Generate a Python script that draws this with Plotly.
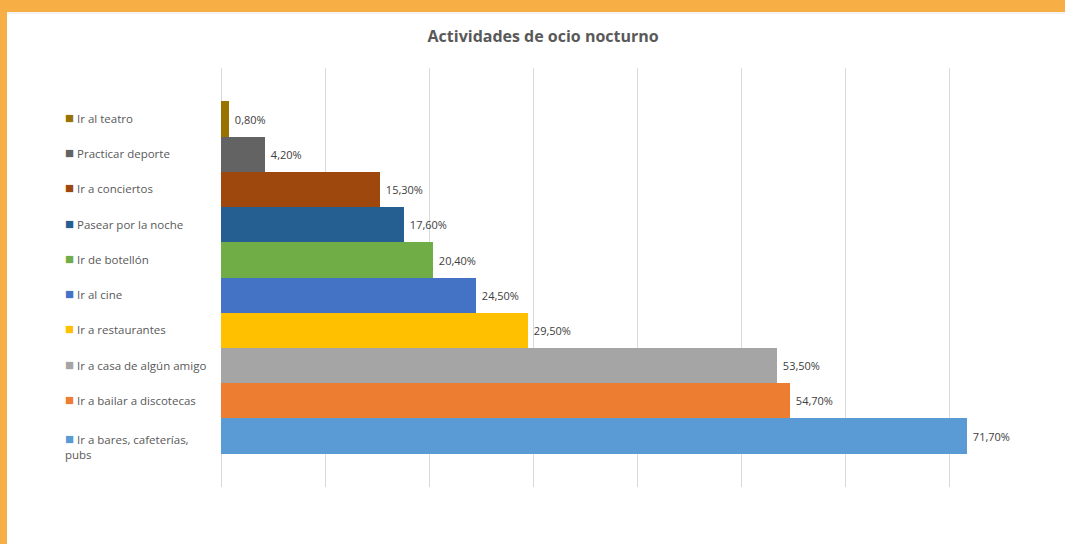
import plotly.graph_objects as go

categories = [
    "Ir al teatro",
    "Practicar deporte",
    "Ir a conciertos",
    "Pasear por la noche",
    "Ir de botellón",
    "Ir al cine",
    "Ir a restaurantes",
    "Ir a casa de algún amigo",
    "Ir a bailar a discotecas",
    "Ir a bares, cafeterías,<br>pubs",
]
values = [0.8, 4.2, 15.3, 17.6, 20.4, 24.5, 29.5, 53.5, 54.7, 71.7]
colors = ["#997300", "#636363", "#9E480E", "#255E91", "#70AD47",
          "#4472C4", "#FFC000", "#A5A5A5", "#ED7D31", "#5B9BD5"]
title = "Actividades de ocio nocturno"

W, H = 1065, 544
L, R, T, B = 221, 12, 68, 57
pw, ph = W - L - R, H - T - B

fig = go.Figure()
fig.add_trace(go.Bar(
    x=values, y=categories, orientation="h",
    marker=dict(color=colors, line=dict(width=0)),
    texttemplate="\u00a0%{x:.2f}%", textposition="outside",
    textfont=dict(family="Open Sans", size=11, color="#404040"),
    cliponaxis=False, hoverinfo="skip",
))

for cat, col in zip(categories, colors):
    multi = "<br>" in cat
    fig.add_annotation(
        xref="paper", yref="y", x=(63 - L) / pw, y=cat,
        xanchor="left", yanchor="middle", align="left",
        text=f"<span style='color:{col};font-size:15px'>■</span>\u00a0{cat}",
        showarrow=False, yshift=-9 if multi else 2,
        font=dict(family="Open Sans", size=11.5, color="#595959"),
    )

def px_x(p):
    return (p - L) / pw

def px_y(p):
    return (H - B - p) / ph

fig.add_shape(type="rect", xref="paper", yref="paper",
              x0=px_x(0), x1=px_x(W), y0=px_y(12), y1=px_y(0),
              fillcolor="#F7AE45", line=dict(width=0), layer="above")
fig.add_shape(type="rect", xref="paper", yref="paper",
              x0=px_x(0), x1=px_x(7), y0=px_y(H), y1=px_y(0),
              fillcolor="#F7AE45", line=dict(width=0), layer="above")
fig.add_shape(type="line", xref="paper", yref="paper",
              x0=px_x(7), x1=px_x(W), y0=px_y(13), y1=px_y(13),
              line=dict(color="#E6E6E6", width=1))

fig.update_layout(
    width=W, height=H,
    margin=dict(l=L, r=R, t=T, b=B),
    paper_bgcolor="white", plot_bgcolor="white",
    separators=",.",
    bargap=0, showlegend=False,
    title=dict(text=f"<b>{title}</b>", x=0.51, xanchor="center",
               y=1 - 36 / H, yanchor="middle",
               font=dict(family="Open Sans", size=16, color="#595959")),
    xaxis=dict(range=[0, 80], dtick=10, showticklabels=False,
               showgrid=True, gridcolor="#D9D9D9", gridwidth=1,
               zeroline=True, zerolinecolor="#D9D9D9", zerolinewidth=1,
               showline=False, fixedrange=True),
    yaxis=dict(range=[10.45, -1.45], showticklabels=False, showgrid=False,
               zeroline=False, showline=False, fixedrange=True),
)

fig.write_html("out.html", config={"displayModeBar": False},
               post_script="document.body.style.margin='0';")
